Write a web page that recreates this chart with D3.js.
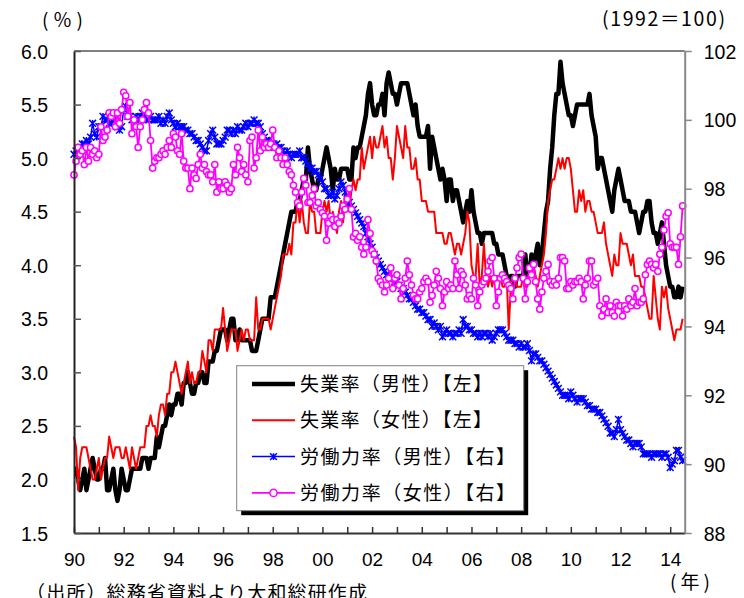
<!DOCTYPE html>
<html>
<head>
<meta charset="utf-8">
<script src="https://cdn.jsdelivr.net/npm/d3@7"></script>
<style>
  html, body { margin: 0; padding: 0; background: #fff; }
  svg { display: block; }
</style>
</head>
<body>
<svg id="chart" width="744" height="598"></svg>
<script>
// Monthly series, January 1990 to July 2014 (one row per year)

// 失業率（男性）, %
const maleUnemp = [
  2.1,2.1,2.0,1.9,2.0,2.1,1.9,2.0,2.1,2.2,2.1,2.0,
  2.0,2.1,2.1,2.2,1.9,1.9,2.0,2.1,1.9,1.8,1.9,2.1,
  2.0,1.9,1.9,2.0,2.1,2.1,2.1,2.1,2.1,2.2,2.2,2.2,
  2.1,2.2,2.2,2.2,2.4,2.3,2.4,2.5,2.5,2.6,2.7,2.6,
  2.7,2.7,2.8,2.8,2.7,2.9,2.9,3.0,2.9,2.8,2.8,2.9,
  2.9,3.0,3.0,2.9,2.9,3.1,3.1,3.1,3.2,3.2,3.3,3.4,
  3.4,3.4,3.3,3.4,3.5,3.5,3.3,3.3,3.4,3.3,3.3,3.3,
  3.3,3.3,3.2,3.2,3.2,3.3,3.4,3.5,3.5,3.5,3.5,3.7,
  3.7,3.7,3.8,3.9,4.0,4.1,4.2,4.3,4.4,4.5,4.5,4.5,
  4.6,4.6,4.7,4.8,4.8,5.1,4.9,4.8,4.7,4.7,4.8,4.8,
  4.9,5.0,5.1,5.0,4.9,4.7,4.9,4.8,4.8,4.9,4.9,4.9,
  4.9,4.8,4.8,5.1,5.0,5.1,5.1,5.2,5.3,5.4,5.6,5.7,
  5.5,5.4,5.4,5.5,5.5,5.6,5.4,5.7,5.8,5.7,5.6,5.6,
  5.5,5.6,5.7,5.7,5.7,5.7,5.6,5.5,5.4,5.5,5.3,5.2,
  5.2,5.2,5.2,5.3,4.9,5.2,5.1,5.0,4.9,4.8,4.9,4.8,
  4.6,4.8,4.8,4.6,4.7,4.7,4.6,4.5,4.4,4.5,4.6,4.5,
  4.7,4.5,4.4,4.3,4.3,4.2,4.3,4.3,4.3,4.3,4.3,4.2,
  4.2,4.1,4.1,4.1,4.0,3.9,3.8,3.9,3.9,3.8,3.9,3.9,
  3.9,3.9,4.1,3.9,3.9,4.1,4.0,4.1,4.2,4.0,4.1,4.3,
  4.5,4.6,4.9,5.1,5.4,5.6,5.6,5.9,5.7,5.6,5.5,5.4,
  5.4,5.3,5.4,5.5,5.5,5.5,5.5,5.5,5.5,5.6,5.4,5.3,
  5.2,4.9,5.0,5.0,4.9,4.8,4.7,4.6,4.5,4.7,4.8,4.9,
  4.8,4.7,4.6,4.6,4.6,4.5,4.5,4.5,4.4,4.3,4.4,4.5,
  4.5,4.6,4.6,4.4,4.3,4.3,4.2,4.3,4.4,4.2,4.0,3.9,
  3.8,3.8,3.7,3.7,3.8,3.7,3.8
];

// 失業率（女性）, %
const femaleUnemp = [
  2.4,2.3,1.9,2.2,2.3,2.3,2.3,2.2,2.1,2.0,2.0,2.1,
  2.2,2.0,2.1,2.2,2.2,2.4,2.3,2.2,2.3,2.3,2.3,2.2,
  2.2,2.3,2.2,2.1,2.3,2.2,2.1,2.2,2.3,2.3,2.3,2.5,
  2.5,2.6,2.5,2.5,2.4,2.6,2.7,2.7,2.6,2.8,2.8,3.0,
  3.0,3.1,3.0,2.9,2.8,2.9,3.0,3.1,2.9,3.0,2.9,2.9,
  3.0,3.0,3.2,3.1,3.0,3.3,3.3,3.2,3.4,3.4,3.4,3.4,
  3.6,3.4,3.2,3.3,3.4,3.4,3.4,3.2,3.3,3.4,3.3,3.4,
  3.4,3.3,3.3,3.3,3.7,3.4,3.4,3.5,3.5,3.5,3.5,3.4,
  3.5,3.6,3.7,3.8,3.9,4.1,4.1,4.1,4.2,4.1,4.4,4.4,
  4.6,4.4,4.6,4.4,4.3,4.3,4.6,4.5,4.5,4.3,4.3,4.3,
  4.5,4.6,4.5,4.6,4.4,4.5,4.4,4.3,4.5,4.6,4.4,4.7,
  4.6,4.5,4.7,4.8,4.7,4.8,4.8,5.1,4.9,5.0,5.1,5.2,
  5.0,5.2,5.1,5.1,5.2,5.3,5.1,5.2,5.0,5.0,4.8,5.0,
  5.3,5.2,5.1,5.0,5.3,5.1,5.1,4.9,4.9,5.0,4.8,4.8,
  4.6,4.6,4.6,4.5,4.5,4.5,4.5,4.3,4.3,4.3,4.3,4.2,
  4.2,4.3,4.3,4.2,4.1,4.2,4.2,4.1,4.2,4.3,4.5,4.4,
  4.0,3.9,3.9,4.2,3.8,3.9,4.2,3.9,3.8,3.9,3.8,3.9,
  3.9,3.9,3.9,3.8,3.8,3.9,3.4,3.8,3.9,3.9,3.8,3.8,
  3.8,3.9,3.8,3.8,3.9,3.9,4.0,3.9,3.8,3.9,4.0,4.1,
  4.3,4.6,4.7,4.8,4.8,4.9,5.0,4.9,5.0,4.9,5.0,5.0,
  4.9,4.7,4.5,4.5,4.7,4.6,4.7,4.5,4.6,4.6,4.5,4.5,
  4.4,4.3,4.3,4.3,4.4,4.2,4.1,4.0,3.9,4.1,4.0,4.0,
  4.3,4.2,4.2,4.2,4.1,4.0,4.1,3.9,3.9,3.9,3.8,3.8,
  3.7,3.6,3.5,3.5,3.9,3.7,3.5,3.4,3.8,3.7,3.8,3.6,
  3.5,3.4,3.3,3.4,3.4,3.4,3.5
];

// 労働力率（男性）, 1992 = 100
const maleLabor = [
  99.0,99.1,99.1,99.2,99.3,99.3,99.4,99.3,99.5,99.9,99.6,99.5,
  99.8,99.8,100.1,100.0,100.0,99.9,99.9,100.1,100.0,99.8,99.7,99.8,
  100.3,100.4,100.1,100.1,100.0,100.0,100.1,100.0,100.1,100.2,100.1,100.0,
  100.0,100.1,100.0,100.0,100.0,100.1,99.9,100.0,99.9,100.1,100.2,100.0,
  99.9,99.8,99.9,99.8,99.8,99.8,99.7,99.7,99.6,99.6,99.5,99.4,
  99.4,99.3,99.2,99.1,99.1,99.4,99.6,99.7,99.5,99.3,99.3,99.3,
  99.4,99.5,99.7,99.7,99.6,99.7,99.6,99.8,99.7,99.7,99.8,99.9,
  99.8,99.9,99.9,100.0,99.9,99.9,99.8,99.6,99.5,99.4,99.4,99.3,
  99.3,99.2,99.3,99.2,99.2,99.1,99.0,99.1,99.0,98.9,99.0,99.0,
  99.0,99.1,98.9,98.9,98.8,98.7,98.6,98.6,98.5,98.5,98.4,98.3,
  98.2,98.0,98.0,97.8,97.8,97.9,97.7,97.8,98.0,98.2,98.1,97.9,
  97.7,97.6,97.5,97.4,97.3,97.2,97.1,97.0,96.9,96.7,96.6,96.4,
  96.3,96.1,96.0,95.9,95.8,95.7,95.6,95.5,95.5,95.4,95.4,95.3,
  95.3,95.2,95.1,95.1,95.0,94.9,94.8,94.8,94.7,94.6,94.5,94.5,
  94.4,94.4,94.3,94.2,94.2,94.0,94.1,94.0,93.9,94.0,93.7,93.8,
  93.9,93.8,93.8,93.7,93.8,93.8,93.9,93.8,94.2,94.0,94.0,93.9,
  93.9,93.8,93.8,93.7,93.8,93.7,93.8,93.8,93.7,93.8,93.6,93.7,
  93.8,93.9,93.9,93.9,93.8,93.7,93.6,93.6,93.6,93.5,93.5,93.4,
  93.5,93.4,93.4,93.5,93.3,93.0,93.2,93.2,93.1,93.0,93.0,92.9,
  92.8,92.7,92.6,92.5,92.4,92.3,92.2,92.1,92.0,92.0,92.0,91.9,
  92.1,92.0,91.9,91.8,91.9,91.9,91.9,91.8,91.7,91.7,91.6,91.6,
  91.6,91.5,91.5,91.4,91.3,91.2,91.1,90.9,90.9,90.8,91.0,91.3,
  91.0,90.9,90.8,90.7,90.7,90.6,90.5,90.6,90.6,90.6,90.5,90.3,
  90.3,90.3,90.3,90.2,90.3,90.3,90.3,90.3,90.2,90.3,90.3,90.2,
  89.9,90.0,90.1,90.4,90.4,90.2,90.1
];

// 労働力率（女性）, 1992 = 100
const femaleLabor = [
  98.4,98.8,99.2,99.0,99.1,98.7,99.2,98.8,99.2,99.0,99.1,98.9,
  99.0,99.8,99.4,99.5,99.7,100.2,100.1,100.2,99.8,100.2,99.9,100.3,
  100.8,100.7,100.1,100.5,99.6,100.0,99.8,99.2,99.8,100.0,100.3,100.5,
  100.2,99.4,98.6,98.8,98.9,98.9,99.0,99.1,99.0,99.2,99.4,99.2,
  99.6,99.5,99.1,99.0,99.6,98.8,98.6,98.6,98.0,98.6,98.4,98.3,
  98.7,99.0,98.6,98.7,98.5,98.4,98.4,98.2,98.7,97.9,98.2,98.0,
  98.0,98.2,98.1,97.9,98.0,98.7,98.4,99.2,98.9,98.5,98.7,98.4,
  98.2,99.4,99.5,98.6,98.9,99.7,99.1,99.5,99.2,99.3,99.2,99.3,
  99.7,99.2,98.9,99.1,98.9,98.7,98.9,98.7,98.5,98.4,98.1,97.9,
  97.6,97.5,97.9,98.3,98.1,97.6,97.6,97.8,98.0,97.5,97.6,97.4,
  97.3,97.2,96.5,97.0,97.2,97.1,96.9,97.1,97.0,97.2,97.5,97.4,
  97.7,98.0,97.4,96.6,96.7,96.5,96.6,96.3,96.1,96.3,97.1,96.7,
  96.2,96.1,95.9,95.4,95.3,95.2,95.0,95.2,95.4,95.7,95.1,95.4,
  95.5,95.2,94.8,95.1,95.4,95.9,95.5,95.2,94.9,94.8,94.8,95.0,
  95.1,95.3,95.4,95.3,94.7,94.9,95.2,95.6,95.4,95.1,94.6,95.0,
  95.3,95.1,95.2,95.1,95.9,95.5,95.1,95.6,95.5,95.2,94.8,94.9,
  94.8,95.4,95.2,94.6,95.0,95.2,95.3,95.4,95.6,95.9,96.0,95.4,
  94.6,95.0,95.4,95.5,95.4,95.3,95.2,95.1,94.8,95.4,95.7,96.0,
  96.1,95.4,94.8,95.3,95.7,95.5,95.8,95.3,94.8,94.5,95.0,95.4,
  95.6,95.8,95.3,95.2,95.3,95.2,95.4,96.0,96.0,95.9,95.1,95.1,
  95.3,95.2,95.3,95.3,95.4,95.3,94.8,95.2,95.4,95.9,95.9,95.2,
  95.3,95.4,94.6,94.3,94.5,94.8,94.4,94.6,94.4,94.3,94.7,94.6,
  94.6,94.3,94.6,94.5,94.8,94.6,94.7,95.1,94.6,94.7,94.7,94.8,
  95.5,95.8,95.9,95.8,95.7,95.8,95.6,96.1,96.3,96.8,97.2,97.3,
  96.4,96.3,96.3,96.3,95.8,96.6,97.5
];

// Axis ticks and labels
const tickYears = d3.range(1990, 2015);
const tickYearLabels = ["90","","92","","94","","96","","98","","00","","02","","04","","06","","08","","10","","12","","14"];
const leftTicks = [1.5, 2.0, 2.5, 3.0, 3.5, 4.0, 4.5, 5.0, 5.5, 6.0];
const rightTicks = [88, 90, 92, 94, 96, 98, 100, 102];

const legendLabels = [
  "失業率（男性）【左】",
  "失業率（女性）【左】",
  "労働力率（男性）【右】",
  "労働力率（女性）【右】"
];

const numFont = "'Liberation Sans', Arial, sans-serif";
const jpFont = "'Noto Sans CJK JP', 'Noto Sans CJK SC', sans-serif";

const svg = d3.select("#chart");
const plot = { left: 74, right: 684.7, top: 51, bottom: 533 };
const monthSpan = 295;

const x = d3.scaleLinear().domain([0, monthSpan]).range([plot.left, plot.right]);
const yL = d3.scaleLinear().domain([1.5, 6.0]).range([plot.bottom, plot.top]);
const yR = d3.scaleLinear().domain([88, 102]).range([plot.bottom, plot.top]);

// Top frame line
svg.append("line")
  .attr("x1", plot.left).attr("x2", plot.right)
  .attr("y1", plot.top).attr("y2", plot.top)
  .attr("stroke", "#808080").attr("stroke-width", 2);

// Series
const lineL = d3.line().x((d, i) => x(i)).y(d => yL(d));
const lineR = d3.line().x((d, i) => x(i)).y(d => yR(d));

const series = svg.append("g");

series.append("path").datum(maleUnemp)
  .attr("d", lineL).attr("fill", "none")
  .attr("stroke", "#000").attr("stroke-width", 4.5)
  .attr("stroke-linejoin", "round");

series.append("path").datum(femaleUnemp)
  .attr("d", lineL).attr("fill", "none")
  .attr("stroke", "#ff0000").attr("stroke-width", 2)
  .attr("stroke-linejoin", "round");

function starPath(cx, cy, s) {
  return `M${cx - s},${cy - s}L${cx + s},${cy + s}` +
         `M${cx + s},${cy - s}L${cx - s},${cy + s}` +
         `M${cx},${cy - s}L${cx},${cy + s}`;
}

series.append("path").datum(maleLabor)
  .attr("d", lineR).attr("fill", "none")
  .attr("stroke", "#0000ff").attr("stroke-width", 1.5);

series.append("g").selectAll("path")
  .data(maleLabor).join("path")
  .attr("d", (d, i) => starPath(x(i), yR(d), 3.4))
  .attr("stroke", "#0000ff").attr("stroke-width", 1.5).attr("fill", "none");

series.append("path").datum(femaleLabor)
  .attr("d", lineR).attr("fill", "none")
  .attr("stroke", "#ff00ff").attr("stroke-width", 1.8);

series.append("g").selectAll("circle")
  .data(femaleLabor).join("circle")
  .attr("cx", (d, i) => x(i)).attr("cy", d => yR(d)).attr("r", 3.1)
  .attr("fill", "#fff").attr("stroke", "#ff00ff").attr("stroke-width", 1.5);

// Axes
const axisBottom = d3.axisBottom(x)
  .tickValues(tickYears.map(yr => (yr - 1990) * 12))
  .tickFormat((d, i) => tickYearLabels[i])
  .tickSize(-6).tickSizeOuter(0).tickPadding(20);

const gB = svg.append("g")
  .attr("transform", `translate(0,${plot.bottom})`)
  .call(axisBottom);
gB.select(".domain").attr("stroke", "#333").attr("stroke-width", 2);
gB.selectAll(".tick line").attr("stroke", "#333").attr("stroke-width", 1.5);
gB.selectAll(".tick text")
  .attr("font-family", numFont).attr("font-size", 19).attr("fill", "#000");

const axisLeft = d3.axisLeft(yL)
  .tickValues(leftTicks).tickFormat(d3.format(".1f"))
  .tickSize(-7).tickSizeOuter(0).tickPadding(26);

const gL = svg.append("g")
  .attr("transform", `translate(${plot.left},0)`)
  .call(axisLeft);
gL.select(".domain").attr("stroke", "#222").attr("stroke-width", 2);
gL.selectAll(".tick line").attr("stroke", "#555").attr("stroke-width", 1.5);
gL.selectAll(".tick text")
  .attr("font-family", numFont).attr("font-size", 19.5).attr("fill", "#000")
  .attr("dy", "0.36em");

const axisRight = d3.axisRight(yR)
  .tickValues(rightTicks).tickFormat(d3.format("d"))
  .tickSize(7).tickSizeOuter(0).tickPadding(12);

const gR = svg.append("g")
  .attr("transform", `translate(${plot.right},0)`)
  .call(axisRight);
gR.select(".domain").attr("stroke", "#888").attr("stroke-width", 2);
gR.selectAll(".tick line").attr("stroke", "#888").attr("stroke-width", 1.5);
gR.selectAll(".tick text")
  .attr("font-family", numFont).attr("font-size", 19.5).attr("fill", "#000")
  .attr("dy", "0.36em");

// Axis titles and source note
svg.append("text")
  .attr("x", 42).attr("y", 27)
  .attr("font-family", jpFont).attr("font-size", 19)
  .attr("textLength", 41).attr("lengthAdjust", "spacing")
  .text("(％)");

svg.append("text")
  .attr("x", 602).attr("y", 25.5)
  .attr("font-family", jpFont).attr("font-size", 19.5)
  .attr("textLength", 123).attr("lengthAdjust", "spacing")
  .text("(1992＝100)");

svg.append("text")
  .attr("x", 670).attr("y", 589)
  .attr("font-family", jpFont).attr("font-size", 19)
  .attr("textLength", 40).attr("lengthAdjust", "spacing")
  .text("(年)");

svg.append("text")
  .attr("x", 26).attr("y", 599.5)
  .attr("font-family", jpFont).attr("font-size", 19)
  .attr("textLength", 341).attr("lengthAdjust", "spacing")
  .text("（出所）総務省資料より大和総研作成");

// Legend
const lg = { x: 236.7, y: 365.7, w: 287, h: 145 };
const legend = svg.append("g");
legend.append("rect")
  .attr("x", lg.x + 4.5).attr("y", lg.y + 4.5)
  .attr("width", lg.w).attr("height", lg.h)
  .attr("fill", "#000");
legend.append("rect")
  .attr("x", lg.x).attr("y", lg.y)
  .attr("width", lg.w).attr("height", lg.h)
  .attr("fill", "#fff").attr("stroke", "#808080").attr("stroke-width", 1);

const legendStyles = [
  { color: "#000", width: 4.5, marker: null, len: 192 },
  { color: "#ff0000", width: 2, marker: null, len: 192 },
  { color: "#0000ff", width: 1.5, marker: "star", len: 215 },
  { color: "#ff00ff", width: 1.8, marker: "circle", len: 215 }
];
const rowY = [384, 420.3, 456.6, 492.9];

legendLabels.forEach((label, i) => {
  const st = legendStyles[i];
  const cy = rowY[i];
  legend.append("line")
    .attr("x1", 252).attr("x2", 295).attr("y1", cy).attr("y2", cy)
    .attr("stroke", st.color).attr("stroke-width", st.width);
  if (st.marker === "star") {
    legend.append("path").attr("d", starPath(273.5, cy, 3.4))
      .attr("stroke", st.color).attr("stroke-width", 1.5).attr("fill", "none");
  } else if (st.marker === "circle") {
    legend.append("circle").attr("cx", 273.5).attr("cy", cy).attr("r", 3.6)
      .attr("fill", "#fff").attr("stroke", st.color).attr("stroke-width", 1.5);
  }
  legend.append("text")
    .attr("x", 300).attr("y", cy + 7)
    .attr("font-family", jpFont).attr("font-size", 19).attr("fill", "#000")
    .attr("textLength", st.len).attr("lengthAdjust", "spacing")
    .text(label);
});
</script>
</body>
</html>
